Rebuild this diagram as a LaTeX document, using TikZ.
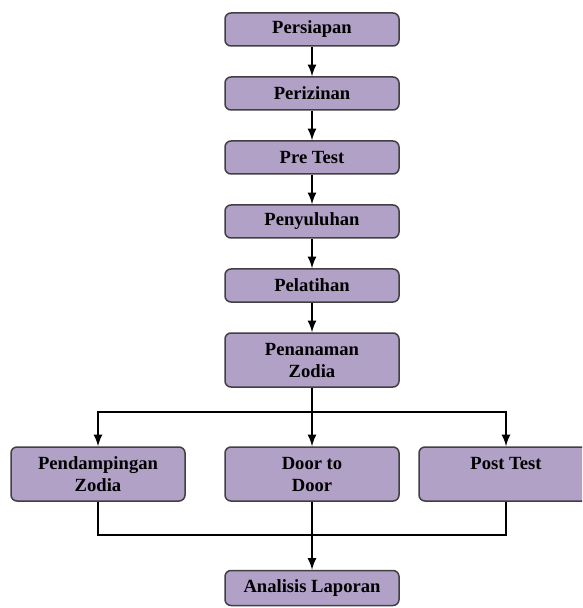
\documentclass[tikz,border=0pt]{standalone}
\usepackage{xcolor}
\usepackage{fontspec}
\setmainfont{Liberation Serif}
\usepackage{tikz}
\usetikzlibrary{arrows, positioning, calc}
\definecolor{stagefill}{RGB}{178,161,199}
\definecolor{stagedraw}{RGB}{64,64,64}
\tikzset{
  stage/.style={
    rectangle,
    rounded corners=3pt,
    minimum width=87pt,
    minimum height=16.5pt,
    inner sep=1pt,
    align=center,
    draw=stagedraw,
    line width=0.75pt,
    fill=stagefill,
    font=\fontsize{9.3}{11}\selectfont\bfseries
  },
  tallstage/.style={
    stage,
    minimum height=27pt
  },
  arrow/.style={
    line width=1pt,
    ->,
    >=latex
  },
  link/.style={
    line width=1pt
  }
}

\begin{document}
\begin{tikzpicture}[node distance=32pt]
  \path[use as bounding box, clip] (0,0) rectangle (291pt,-304pt);

  % Stages
  \node (L0) [stage] at (156pt,-14.75pt) {Persiapan};
  \node (L1) [stage, below of=L0] {Perizinan};
  \node (L2) [stage, below of=L1] {Pre Test};
  \node (L3) [stage, below of=L2] {Penyuluhan};
  \node (L4) [stage, below of=L3] {Pelatihan};
  \node (L5) [tallstage, below of=L4, node distance=37.25pt] {Penanaman\\Zodia};

  % Branches
  \node (B2) [tallstage, below of=L5, node distance=57pt] {Door to\\Door};
  \node (B1) [tallstage, left of=B2, node distance=107pt] {Pendampingan\\Zodia};
  \node (B3) [tallstage, right of=B2, node distance=97pt] {Post Test\\~};

  \node (R0) [stage, below of=B2, node distance=57pt, minimum height=17.5pt] {Analisis Laporan};

  % Arrows
  \draw[arrow] (L0) -- (L1);
  \draw[arrow] (L1) -- (L2);
  \draw[arrow] (L2) -- (L3);
  \draw[arrow] (L3) -- (L4);
  \draw[arrow] (L4) -- (L5);

  \coordinate (split) at ([yshift=-12pt]L5.south);
  \draw[arrow] (L5.south) -- (B2.north);
  \draw[arrow] (split) -| (B1.north);
  \draw[arrow] (split) -| (B3.north);

  \coordinate (merge) at ([yshift=-16.5pt]B2.south);
  \draw[link] (B1.south) |- (merge);
  \draw[link] (B3.south) |- (merge);
  \draw[arrow] (B2.south) -- (R0.north);

\end{tikzpicture}
\end{document}
